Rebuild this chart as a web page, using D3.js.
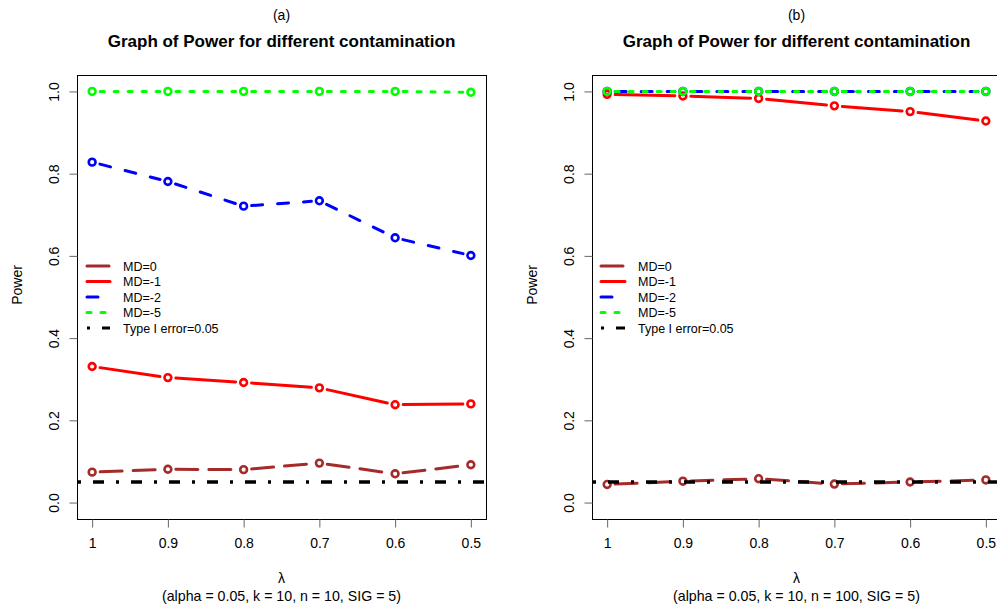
<!DOCTYPE html>
<meta charset="utf-8">
<style>
body { margin: 0; background: #fff; }
text { font-family: "Liberation Sans", Arial, sans-serif; fill: #000; }
</style>
<body>
<script src="https://cdn.jsdelivr.net/npm/d3@7"></script>
<script>

// lambda values on the x axis
var lambdas = [1, 0.9, 0.8, 0.7, 0.6, 0.5];
var xTickLabels = ["1", "0.9", "0.8", "0.7", "0.6", "0.5"];
var yTicks = [0, 0.2, 0.4, 0.6, 0.8, 1.0];

// panel (a): n = 10
var md0A = [0.074, 0.081, 0.080, 0.096, 0.070, 0.092];
var md1A = [0.331, 0.304, 0.292, 0.279, 0.238, 0.240];
var md2A = [0.828, 0.781, 0.721, 0.734, 0.644, 0.601];
var md5A = [1.000, 1.000, 1.000, 1.000, 1.000, 0.998];

// panel (b): n = 100
var md0B = [0.044, 0.052, 0.058, 0.045, 0.050, 0.055];
var md1B = [0.993, 0.989, 0.983, 0.965, 0.951, 0.928];
var md2B = [1.000, 1.000, 1.000, 1.000, 1.000, 1.000];
var md5B = [1.000, 1.000, 1.000, 1.000, 1.000, 1.000];

var typeOne = 0.05;

var legendNames = ["MD=0", "MD=-1", "MD=-2", "MD=-5", "Type I error=0.05"];
var subtitles = ["(alpha = 0.05, k = 10, n = 10, SIG = 5)", "(alpha = 0.05, k = 10, n = 100, SIG = 5)"];
var panelTags = ["(a)", "(b)"];

// line styles (R-like: brown longdash, red solid, blue dashed, green dotted)
var styles = [
  {color: "#A52A2A", dash: "22,11"},
  {color: "#FF0000", dash: null},
  {color: "#0000FF", dash: "11,15"},
  {color: "#00FF00", dash: "4,10"},
];
var refDash = "3,12,11,12";

var W = 997, H = 609;
var box = {left: 77, right: 486, top: 75, bottom: 519};
var panelOffset = [0, 515];

var svg = d3.select("body").append("svg")
    .attr("width", W).attr("height", H);

function drawPanel(p, seriesData) {
  var g = svg.append("g").attr("transform", "translate(" + panelOffset[p] + ",0)");

  // R style axis padding (4%)
  var x = d3.scaleLinear().domain([1.02, 0.48]).range([box.left, box.right]);
  var y = d3.scaleLinear().domain([-0.04, 1.04]).range([box.bottom, box.top]);

  var cx = (box.left + box.right) / 2;

  g.append("text").attr("x", cx).attr("y", 20)
      .attr("text-anchor", "middle").style("font-size", "14px").text(panelTags[p]);
  g.append("text").attr("x", cx).attr("y", 47)
      .attr("text-anchor", "middle").style("font-size", "17px").style("font-weight", "bold")
      .text("Graph of Power for different contamination");

  // series: segments with gaps around points (type = "b")
  var gap = 8;
  seriesData.forEach(function(vals, i) {
    var st = styles[i];
    var pts = lambdas.map(function(l, j) { return [x(l), y(vals[j])]; });
    for (var j = 0; j < pts.length - 1; j++) {
      var a = pts[j], b = pts[j + 1];
      var dx = b[0] - a[0], dy = b[1] - a[1], len = Math.sqrt(dx * dx + dy * dy);
      if (len <= 2 * gap) continue;
      var ux = dx / len, uy = dy / len;
      g.append("line")
          .attr("x1", a[0] + ux * gap).attr("y1", a[1] + uy * gap)
          .attr("x2", b[0] - ux * gap).attr("y2", b[1] - uy * gap)
          .attr("stroke", st.color).attr("stroke-width", 3)
          .attr("stroke-linecap", "round")
          .attr("stroke-dasharray", st.dash);
    }
    g.selectAll(null).data(pts).enter().append("circle")
        .attr("cx", function(d) { return d[0]; })
        .attr("cy", function(d) { return d[1]; })
        .attr("r", 3.4)
        .attr("fill", "none").attr("stroke", st.color).attr("stroke-width", 2.6);
  });

  // Type I error reference line
  g.append("line")
      .attr("x1", box.left + 1).attr("x2", Math.min(box.right, W - panelOffset[p]))
      .attr("y1", y(typeOne)).attr("y2", y(typeOne))
      .attr("stroke", "#000").attr("stroke-width", 3.5)
      .attr("stroke-dasharray", refDash);

  // box
  g.append("rect").attr("x", box.left + 0.5).attr("y", box.top + 0.5)
      .attr("width", box.right - box.left).attr("height", box.bottom - box.top)
      .attr("fill", "none").attr("stroke", "#000").attr("stroke-width", 1);

  // x axis
  var xAxis = d3.axisBottom(x).tickValues(lambdas)
      .tickFormat(function(d, i) { return xTickLabels[i]; })
      .tickSize(8).tickPadding(11);
  var gx = g.append("g").attr("transform", "translate(0," + (box.bottom + 0.5) + ")").call(xAxis);
  gx.select(".domain").remove();
  gx.selectAll(".tick line").attr("stroke", "#666");
  gx.selectAll("text").style("font-size", "14px")
      .style("font-family", "Liberation Sans, Arial, sans-serif").attr("fill", "#000");

  // y axis
  var yAxis = d3.axisLeft(y).tickValues(yTicks).tickFormat(d3.format(".1f")).tickSize(8);
  var gy = g.append("g").attr("transform", "translate(" + (box.left + 0.5) + ",0)").call(yAxis);
  gy.select(".domain").remove();
  gy.selectAll(".tick line").attr("stroke", "#666");
  gy.selectAll("text")
      .attr("x", null).attr("dy", null)
      .attr("transform", "translate(-19,0) rotate(-90)")
      .attr("text-anchor", "middle")
      .style("font-size", "14px")
      .style("font-family", "Liberation Sans, Arial, sans-serif").attr("fill", "#000");

  // axis titles
  g.append("text").attr("transform", "translate(" + (box.left - 55) + ",285) rotate(-90)")
      .attr("text-anchor", "middle").style("font-size", "14px").text("Power");
  g.append("text").attr("x", cx).attr("y", 583)
      .attr("text-anchor", "middle").style("font-size", "14px").text("λ");
  g.append("text").attr("x", cx).attr("y", 601)
      .attr("text-anchor", "middle").style("font-size", "14.2px").text(subtitles[p]);

  // legend
  var legStyles = styles.concat([{color: "#000", dash: refDash}]);
  legendNames.forEach(function(name, i) {
    var ly = 266 + i * 15.5;
    var st = legStyles[i];
    g.append("line")
        .attr("x1", box.left + 10 + (p ? -1 : 0)).attr("x2", box.left + 33)
        .attr("y1", ly).attr("y2", ly)
        .attr("stroke", st.color).attr("stroke-width", 3)
        .attr("stroke-linecap", i === 4 ? "butt" : "round")
        .attr("stroke-dasharray", st.dash);
    g.append("text").attr("x", box.left + 46).attr("y", ly + 4.5)
        .style("font-size", "12.5px").text(name);
  });
}

drawPanel(0, [md0A, md1A, md2A, md5A]);
drawPanel(1, [md0B, md1B, md2B, md5B]);

</script>
</body>
